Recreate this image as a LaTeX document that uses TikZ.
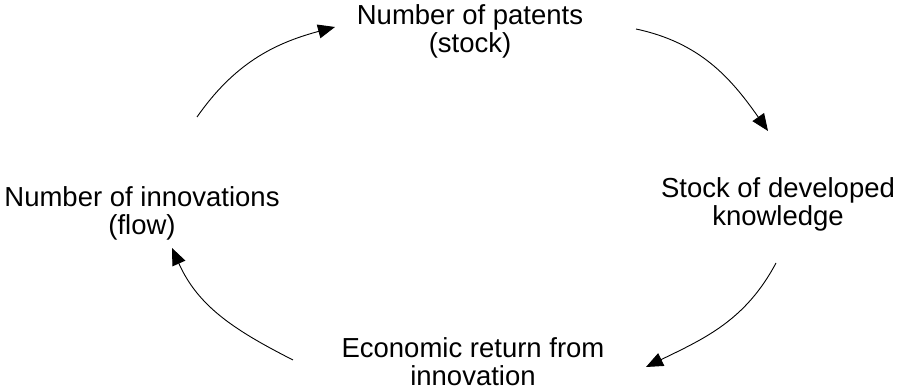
\documentclass[tikz,border=0pt]{standalone}
\usepackage{fontspec}
\setmainfont{Liberation Sans}
\usepackage{tikz}
\usetikzlibrary{arrows.meta}

\begin{document}
\begin{tikzpicture}[x=1pt,y=1pt,
    stage/.style={align=center,inner sep=0pt,font=\fontsize{27.5}{28}\selectfont},
    loop/.style={line width=0.9pt,-{Triangle[length=17pt,width=14pt]}}]
    \useasboundingbox (0,0) rectangle (898,390);
    % the four stages of the cycle
    \node[stage] (patents) at (470,359) {Number of patents\\(stock)};
    \node[stage] (knowledge) at (778,186) {Stock of developed\\knowledge};
    \node[stage] (return) at (473,28) {Economic return from\\innovation};
    \node[stage] (innovations) at (142,177) {Number of innovations\\(flow)};
    % ends of the arcs between them
    \coordinate (a1) at (197,273);
    \coordinate (b1) at (335,363);
    \coordinate (a2) at (636,361);
    \coordinate (b2) at (768,259);
    \coordinate (a3) at (776,127);
    \coordinate (b3) at (646,23);
    \coordinate (a4) at (293,30);
    \coordinate (b4) at (172,142);
    \draw[loop] (a1) to[out=55,in=195] (b1);
    \draw[loop] (a2) to[out=-12,in=125] (b2);
    \draw[loop] (a3) to[out=-118,in=26] (b3);
    \draw[loop] (a4) to[out=153,in=-66] (b4);
  \end{tikzpicture}
\end{document}
